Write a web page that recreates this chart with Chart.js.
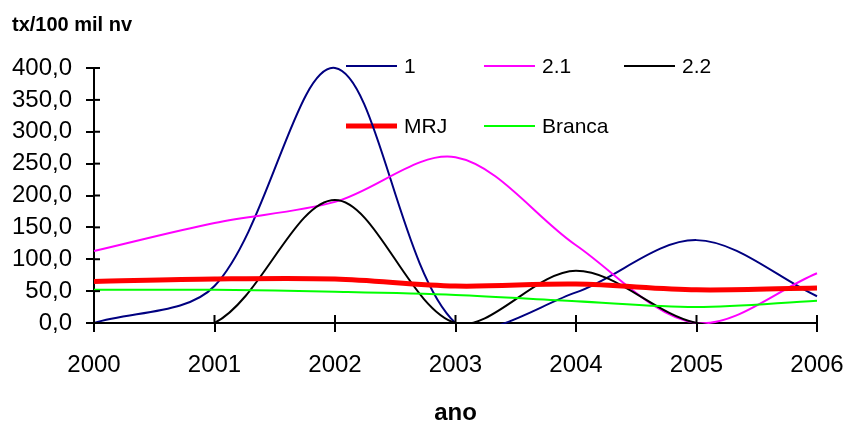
<!DOCTYPE html>
<html lang="pt">
<head>
<meta charset="UTF-8" />
<title>tx/100 mil nv por ano</title>
<script src="https://cdn.jsdelivr.net/npm/chart.js"></script>
<style>
  html, body { margin:0; padding:0; background:#fff; }
</style>
</head>
<body>
<canvas id="chart" width="845" height="424"></canvas>
<script>
// ---- 1) dados ----
const anos    = ['2000', '2001', '2002', '2003', '2004', '2005', '2006'];
const serie1  = [0, 58, 400, 0, 48, 130, 42];
const serie21 = [113, 157, 190, 260, 122, 0, 78];
const serie22 = [0, 0, 193, 0, 82, 0, 0];
const serieMRJ    = [65, 69, 69, 58, 61, 52, 55];
const serieBranca = [52, 52, 49, 44, 34, 25, 35];

// ---- 2) estilo ----
const fonte = 'Liberation Sans, Arial, sans-serif';
const fmt = v => Number(v).toFixed(1).replace('.', ',');

// legenda dentro da área do gráfico (3 colunas, 2 linhas)
const legendaPos = [[346, 66], [484, 66], [624, 66], [346, 126], [484, 126]];

const legendaPlugin = {
  id: 'legendaInterna',
  beforeDatasetsDraw(chart) {
    const ctx = chart.ctx;
    ctx.save();
    ctx.font = '21px ' + fonte;
    ctx.textBaseline = 'middle';
    ctx.fillStyle = '#000';
    chart.data.datasets.forEach((ds, i) => {
      const [x, y] = legendaPos[i];
      ctx.strokeStyle = ds.borderColor;
      ctx.lineWidth = ds.borderWidth;
      ctx.beginPath();
      ctx.moveTo(x, y);
      ctx.lineTo(x + 51, y);
      ctx.stroke();
      ctx.fillText(ds.label, x + 58, y + 1);
    });
    ctx.restore();
  }
};

// marcas dos eixos cruzando a linha do eixo (parte interna)
const marcasPlugin = {
  id: 'marcasInternas',
  afterDraw(chart) {
    const {ctx, chartArea, scales} = chart;
    ctx.save();
    ctx.strokeStyle = '#000';
    ctx.lineWidth = 2;
    scales.y.ticks.forEach(t => {
      const y = scales.y.getPixelForValue(t.value);
      ctx.beginPath();
      ctx.moveTo(chartArea.left, y);
      ctx.lineTo(chartArea.left + 6, y);
      ctx.stroke();
    });
    scales.x.ticks.forEach((t, i) => {
      const x = scales.x.getPixelForTick(i);
      ctx.beginPath();
      ctx.moveTo(x, chartArea.bottom);
      ctx.lineTo(x, chartArea.bottom - 8);
      ctx.stroke();
    });
    ctx.restore();
  }
};

const linha = (label, data, cor, larg, ordem) => ({
  label, data,
  borderColor: cor,
  backgroundColor: cor,
  borderWidth: larg,
  pointRadius: 0,
  fill: false,
  tension: 0.33,
  order: ordem,
  clip: {left: 1, top: 8, right: 2, bottom: 1}
});

// ---- 3) gráfico ----
new Chart(document.getElementById('chart'), {
  type: 'line',
  data: {
    labels: anos,
    datasets: [
      linha('1', serie1, '#000080', 2, 5),
      linha('2.1', serie21, '#ff00ff', 2, 4),
      linha('2.2', serie22, '#000000', 2, 3),
      linha('MRJ', serieMRJ, '#ff0000', 5, 2),
      linha('Branca', serieBranca, '#00ff00', 2, 1)
    ]
  },
  plugins: [legendaPlugin, marcasPlugin],
  options: {
    responsive: false,
    animation: false,
    devicePixelRatio: 1,
    layout: { padding: { left: 12, right: 28, top: 0, bottom: 0 } },
    elements: { line: { capBezierPoints: false } },
    scales: {
      x: {
        type: 'category',
        offset: false,
        grid: { drawOnChartArea: false, drawTicks: true, tickLength: 9, color: '#000', lineWidth: 2 },
        border: { display: true, color: '#000', width: 2 },
        ticks: { color: '#000', font: { family: fonte, size: 24 }, padding: 19, maxRotation: 0, autoSkip: false },
        title: { display: true, text: 'ano', color: '#000',
                 font: { family: fonte, size: 24, weight: 'bold', lineHeight: 0.85 }, padding: { top: 0, bottom: 0 } },
        afterFit: s => { s.height = 101; s.paddingLeft = 0; s.paddingRight = 0; }
      },
      y: {
        min: 0, max: 400,
        grid: { drawOnChartArea: false, drawTicks: true, tickLength: 8, color: '#000', lineWidth: 2 },
        border: { display: true, color: '#000', width: 2 },
        ticks: { stepSize: 50, callback: fmt, padding: 14, color: '#000', font: { family: fonte, size: 24 } },
        afterFit: s => { s.width = 82; s.paddingTop = 0; s.paddingBottom = 0; }
      }
    },
    plugins: {
      legend: { display: false },
      tooltip: { enabled: false },
      title: {
        display: true,
        text: 'tx/100 mil nv',
        align: 'start',
        color: '#000',
        font: { family: fonte, size: 20, weight: 'bold', lineHeight: 1.2 },
        padding: { top: 13, bottom: 31 }
      }
    }
  }
});
</script>
</body>
</html>
